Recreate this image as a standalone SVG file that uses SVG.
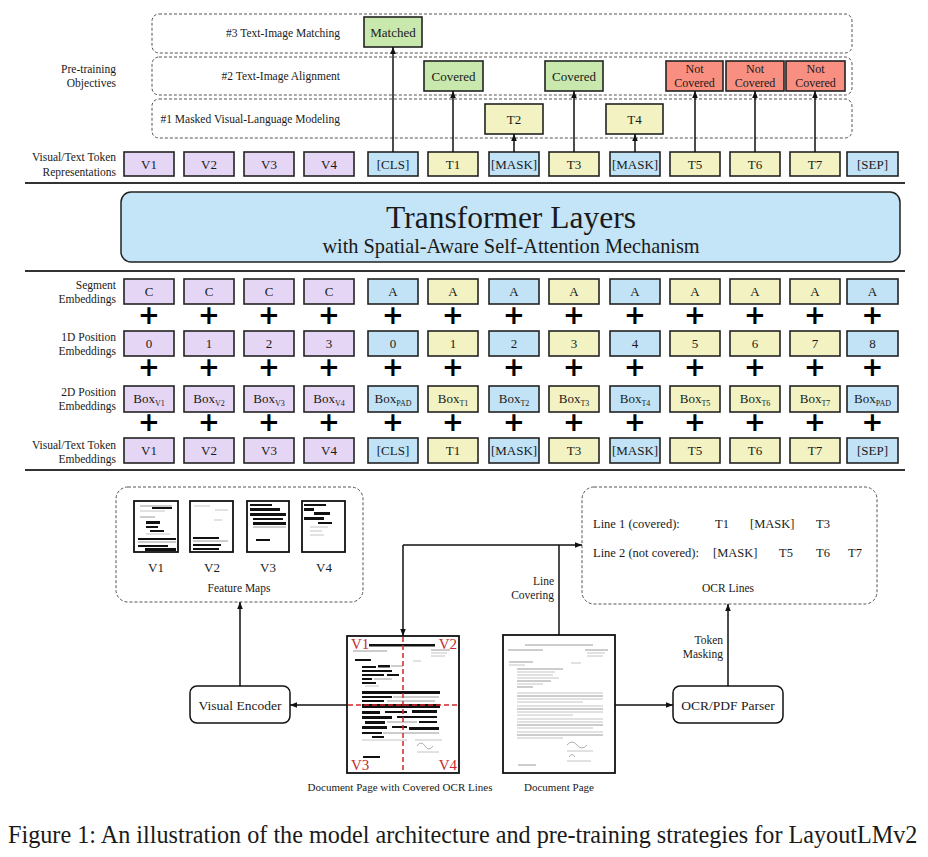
<svg xmlns="http://www.w3.org/2000/svg" width="928" height="857" viewBox="0 0 928 857">
<defs>
<marker id="ah" viewBox="0 0 10 10" refX="10" refY="5" markerWidth="7" markerHeight="7" markerUnits="userSpaceOnUse" orient="auto"><path d="M0,1 L10,5 L0,9 z" fill="#111"/></marker>
<style>
text{font-family:"Liberation Serif","Times New Roman",serif;fill:#1a1a1a}
.lbl{font-size:11.5px;text-anchor:end}
.obj{font-size:11.5px;text-anchor:end}
.tk{font-size:13px;text-anchor:middle}
.nc{font-size:12px;text-anchor:middle}
.sub{font-size:8px}
.plus{font-family:"DejaVu Sans",sans-serif;font-weight:bold;font-size:26px;text-anchor:middle;fill:#000}
.b{stroke:#222;stroke-width:1.6}
.pu{fill:#e6d6f6}
.bl{fill:#c2e3f6}
.ye{fill:#f2f2c2}
.gr{fill:#c8e8ae}
.rd{fill:#f98f80}
.dash{fill:none;stroke:#555;stroke-width:1;stroke-dasharray:3 2}
.sep{stroke:#333;stroke-width:1.8}
.con{stroke:#111;stroke-width:1.5;fill:none}
.rnode{fill:#fff;stroke:#111;stroke-width:1.5}
.doc{fill:#fff;stroke:#111;stroke-width:1.8}
.bar{fill:#111}
.gl{stroke:#9a9a9a;stroke-width:1}
.gl2{stroke:#b5b5b5;stroke-width:0.8}
.red{fill:#c8282d;font-size:15px}
.rdl{stroke:#d0282d;stroke-width:1.5;stroke-dasharray:5 3}
</style>
</defs>

<!-- separators -->
<g id="separators">
<line class="sep" x1="25" y1="183" x2="905" y2="183"/>
<line class="sep" x1="25" y1="271" x2="905" y2="271"/>
<line class="sep" x1="25" y1="470" x2="905" y2="470"/>
</g>

<!-- objective panels -->
<g id="objectives">
<rect class="dash" x="152" y="14" width="700" height="39" rx="7"/>
<rect class="dash" x="152" y="57" width="700" height="38" rx="7"/>
<rect class="dash" x="152" y="99" width="700" height="39" rx="7"/>
<text class="obj" x="340" y="37">#3 Text-Image Matching</text>
<text class="obj" x="340" y="80">#2 Text-Image Alignment</text>
<text class="obj" x="340" y="123">#1 Masked Visual-Language Modeling</text>
<text class="lbl" x="116" y="73">Pre-training</text>
<text class="lbl" x="116" y="87">Objectives</text>
</g>

<g id="n-matched"><rect class="b gr" x="364" y="17" width="58" height="30"/><text class="tk" x="393" y="37">Matched</text></g>
<g id="n-cov1"><rect class="b gr" x="424" y="61" width="59" height="30"/><text class="tk" x="453.5" y="81">Covered</text></g>
<g id="n-cov2"><rect class="b gr" x="545" y="61" width="58" height="30"/><text class="tk" x="574" y="81">Covered</text></g>
<g id="n-nc1"><rect class="b rd" x="666" y="61" width="57" height="30"/><text class="nc" x="694.5" y="73">Not</text><text class="nc" x="694.5" y="87">Covered</text></g>
<g id="n-nc2"><rect class="b rd" x="726" y="61" width="58" height="30"/><text class="nc" x="755" y="73">Not</text><text class="nc" x="755" y="87">Covered</text></g>
<g id="n-nc3"><rect class="b rd" x="786" y="61" width="59" height="30"/><text class="nc" x="815.5" y="73">Not</text><text class="nc" x="815.5" y="87">Covered</text></g>
<g id="n-t2p"><rect class="b ye" x="485" y="104" width="58" height="30"/><text class="tk" x="514" y="124">T2</text></g>
<g id="n-t4p"><rect class="b ye" x="606" y="104" width="57" height="30"/><text class="tk" x="634.5" y="124">T4</text></g>

<!-- output representations -->
<g id="rep-label"><text class="lbl" x="116" y="161">Visual/Text Token</text><text class="lbl" x="116" y="176">Representations</text></g>
<g id="rep-v1"><rect class="b pu" x="124" y="152" width="50" height="24"/><text class="tk" x="149" y="169">V1</text></g>
<g id="rep-v2"><rect class="b pu" x="184" y="152" width="50" height="24"/><text class="tk" x="209" y="169">V2</text></g>
<g id="rep-v3"><rect class="b pu" x="244" y="152" width="50" height="24"/><text class="tk" x="269" y="169">V3</text></g>
<g id="rep-v4"><rect class="b pu" x="304" y="152" width="50" height="24"/><text class="tk" x="329" y="169">V4</text></g>
<g id="rep-cls"><rect class="b bl" x="368" y="152" width="50" height="24"/><text class="tk" x="393" y="169">[CLS]</text></g>
<g id="rep-t1"><rect class="b ye" x="428" y="152" width="50" height="24"/><text class="tk" x="453" y="169">T1</text></g>
<g id="rep-m1"><rect class="b bl" x="489" y="152" width="50" height="24"/><text class="tk" x="514" y="169">[MASK]</text></g>
<g id="rep-t3"><rect class="b ye" x="549" y="152" width="50" height="24"/><text class="tk" x="574" y="169">T3</text></g>
<g id="rep-m2"><rect class="b bl" x="610" y="152" width="50" height="24"/><text class="tk" x="635" y="169">[MASK]</text></g>
<g id="rep-t5"><rect class="b ye" x="670" y="152" width="50" height="24"/><text class="tk" x="695" y="169">T5</text></g>
<g id="rep-t6"><rect class="b ye" x="730" y="152" width="50" height="24"/><text class="tk" x="755" y="169">T6</text></g>
<g id="rep-t7"><rect class="b ye" x="790" y="152" width="50" height="24"/><text class="tk" x="815" y="169">T7</text></g>
<g id="rep-sep"><rect class="b bl" x="847" y="152" width="51" height="24"/><text class="tk" x="872.5" y="169">[SEP]</text></g>

<!-- transformer -->
<g id="transformer">
<rect x="121" y="192" width="779" height="70" rx="10" fill="#c4e4f7" stroke="#222" stroke-width="1.5"/>
<text x="511" y="228" text-anchor="middle" font-size="31.5px">Transformer Layers</text>
<text x="511" y="253" text-anchor="middle" font-size="20.3px">with Spatial-Aware Self-Attention Mechanism</text>
</g>

<!-- embeddings row labels -->
<g id="emb-labels">
<text class="lbl" x="116" y="289">Segment</text><text class="lbl" x="116" y="303">Embeddings</text>
<text class="lbl" x="116" y="341">1D Position</text><text class="lbl" x="116" y="355">Embeddings</text>
<text class="lbl" x="116" y="396">2D Position</text><text class="lbl" x="116" y="410">Embeddings</text>
<text class="lbl" x="116" y="449">Visual/Text Token</text><text class="lbl" x="116" y="463">Embeddings</text>
</g>

<!-- segment row -->
<g id="seg">
<g id="seg-1"><rect class="b pu" x="124" y="279" width="50" height="25"/><text class="tk" x="149" y="296">C</text></g>
<g id="seg-2"><rect class="b pu" x="184" y="279" width="50" height="25"/><text class="tk" x="209" y="296">C</text></g>
<g id="seg-3"><rect class="b pu" x="244" y="279" width="50" height="25"/><text class="tk" x="269" y="296">C</text></g>
<g id="seg-4"><rect class="b pu" x="304" y="279" width="50" height="25"/><text class="tk" x="329" y="296">C</text></g>
<g id="seg-5"><rect class="b bl" x="368" y="279" width="50" height="25"/><text class="tk" x="393" y="296">A</text></g>
<g id="seg-6"><rect class="b ye" x="428" y="279" width="50" height="25"/><text class="tk" x="453" y="296">A</text></g>
<g id="seg-7"><rect class="b bl" x="489" y="279" width="50" height="25"/><text class="tk" x="514" y="296">A</text></g>
<g id="seg-8"><rect class="b ye" x="549" y="279" width="50" height="25"/><text class="tk" x="574" y="296">A</text></g>
<g id="seg-9"><rect class="b bl" x="610" y="279" width="50" height="25"/><text class="tk" x="635" y="296">A</text></g>
<g id="seg-10"><rect class="b ye" x="670" y="279" width="50" height="25"/><text class="tk" x="695" y="296">A</text></g>
<g id="seg-11"><rect class="b ye" x="730" y="279" width="50" height="25"/><text class="tk" x="755" y="296">A</text></g>
<g id="seg-12"><rect class="b ye" x="790" y="279" width="50" height="25"/><text class="tk" x="815" y="296">A</text></g>
<g id="seg-13"><rect class="b bl" x="847" y="279" width="51" height="25"/><text class="tk" x="872.5" y="296">A</text></g>
</g>

<!-- 1D position row -->
<g id="pos1d">
<g id="p1-1"><rect class="b pu" x="124" y="331" width="50" height="25"/><text class="tk" x="149" y="348">0</text></g>
<g id="p1-2"><rect class="b pu" x="184" y="331" width="50" height="25"/><text class="tk" x="209" y="348">1</text></g>
<g id="p1-3"><rect class="b pu" x="244" y="331" width="50" height="25"/><text class="tk" x="269" y="348">2</text></g>
<g id="p1-4"><rect class="b pu" x="304" y="331" width="50" height="25"/><text class="tk" x="329" y="348">3</text></g>
<g id="p1-5"><rect class="b bl" x="368" y="331" width="50" height="25"/><text class="tk" x="393" y="348">0</text></g>
<g id="p1-6"><rect class="b ye" x="428" y="331" width="50" height="25"/><text class="tk" x="453" y="348">1</text></g>
<g id="p1-7"><rect class="b bl" x="489" y="331" width="50" height="25"/><text class="tk" x="514" y="348">2</text></g>
<g id="p1-8"><rect class="b ye" x="549" y="331" width="50" height="25"/><text class="tk" x="574" y="348">3</text></g>
<g id="p1-9"><rect class="b bl" x="610" y="331" width="50" height="25"/><text class="tk" x="635" y="348">4</text></g>
<g id="p1-10"><rect class="b ye" x="670" y="331" width="50" height="25"/><text class="tk" x="695" y="348">5</text></g>
<g id="p1-11"><rect class="b ye" x="730" y="331" width="50" height="25"/><text class="tk" x="755" y="348">6</text></g>
<g id="p1-12"><rect class="b ye" x="790" y="331" width="50" height="25"/><text class="tk" x="815" y="348">7</text></g>
<g id="p1-13"><rect class="b bl" x="847" y="331" width="51" height="25"/><text class="tk" x="872.5" y="348">8</text></g>
</g>

<!-- 2D position row -->
<g id="pos2d">
<g id="p2-1"><rect class="b pu" x="124" y="386" width="50" height="26"/><text class="tk" x="149" y="403">Box<tspan class="sub" dy="3">V1</tspan></text></g>
<g id="p2-2"><rect class="b pu" x="184" y="386" width="50" height="26"/><text class="tk" x="209" y="403">Box<tspan class="sub" dy="3">V2</tspan></text></g>
<g id="p2-3"><rect class="b pu" x="244" y="386" width="50" height="26"/><text class="tk" x="269" y="403">Box<tspan class="sub" dy="3">V3</tspan></text></g>
<g id="p2-4"><rect class="b pu" x="304" y="386" width="50" height="26"/><text class="tk" x="329" y="403">Box<tspan class="sub" dy="3">V4</tspan></text></g>
<g id="p2-5"><rect class="b bl" x="368" y="386" width="50" height="26"/><text class="tk" x="393" y="403">Box<tspan class="sub" dy="3">PAD</tspan></text></g>
<g id="p2-6"><rect class="b ye" x="428" y="386" width="50" height="26"/><text class="tk" x="453" y="403">Box<tspan class="sub" dy="3">T1</tspan></text></g>
<g id="p2-7"><rect class="b bl" x="489" y="386" width="50" height="26"/><text class="tk" x="514" y="403">Box<tspan class="sub" dy="3">T2</tspan></text></g>
<g id="p2-8"><rect class="b ye" x="549" y="386" width="50" height="26"/><text class="tk" x="574" y="403">Box<tspan class="sub" dy="3">T3</tspan></text></g>
<g id="p2-9"><rect class="b bl" x="610" y="386" width="50" height="26"/><text class="tk" x="635" y="403">Box<tspan class="sub" dy="3">T4</tspan></text></g>
<g id="p2-10"><rect class="b ye" x="670" y="386" width="50" height="26"/><text class="tk" x="695" y="403">Box<tspan class="sub" dy="3">T5</tspan></text></g>
<g id="p2-11"><rect class="b ye" x="730" y="386" width="50" height="26"/><text class="tk" x="755" y="403">Box<tspan class="sub" dy="3">T6</tspan></text></g>
<g id="p2-12"><rect class="b ye" x="790" y="386" width="50" height="26"/><text class="tk" x="815" y="403">Box<tspan class="sub" dy="3">T7</tspan></text></g>
<g id="p2-13"><rect class="b bl" x="847" y="386" width="51" height="26"/><text class="tk" x="872.5" y="403">Box<tspan class="sub" dy="3">PAD</tspan></text></g>
</g>

<!-- token embedding row -->
<g id="tokemb">
<g id="te-1"><rect class="b pu" x="124" y="438" width="50" height="25"/><text class="tk" x="149" y="455">V1</text></g>
<g id="te-2"><rect class="b pu" x="184" y="438" width="50" height="25"/><text class="tk" x="209" y="455">V2</text></g>
<g id="te-3"><rect class="b pu" x="244" y="438" width="50" height="25"/><text class="tk" x="269" y="455">V3</text></g>
<g id="te-4"><rect class="b pu" x="304" y="438" width="50" height="25"/><text class="tk" x="329" y="455">V4</text></g>
<g id="te-5"><rect class="b bl" x="368" y="438" width="50" height="25"/><text class="tk" x="393" y="455">[CLS]</text></g>
<g id="te-6"><rect class="b ye" x="428" y="438" width="50" height="25"/><text class="tk" x="453" y="455">T1</text></g>
<g id="te-7"><rect class="b bl" x="489" y="438" width="50" height="25"/><text class="tk" x="514" y="455">[MASK]</text></g>
<g id="te-8"><rect class="b ye" x="549" y="438" width="50" height="25"/><text class="tk" x="574" y="455">T3</text></g>
<g id="te-9"><rect class="b bl" x="610" y="438" width="50" height="25"/><text class="tk" x="635" y="455">[MASK]</text></g>
<g id="te-10"><rect class="b ye" x="670" y="438" width="50" height="25"/><text class="tk" x="695" y="455">T5</text></g>
<g id="te-11"><rect class="b ye" x="730" y="438" width="50" height="25"/><text class="tk" x="755" y="455">T6</text></g>
<g id="te-12"><rect class="b ye" x="790" y="438" width="50" height="25"/><text class="tk" x="815" y="455">T7</text></g>
<g id="te-13"><rect class="b bl" x="847" y="438" width="51" height="25"/><text class="tk" x="872.5" y="455">[SEP]</text></g>
</g>

<!-- plus signs -->
<g id="plus">
<text class="plus" x="149" y="324">+</text><text class="plus" x="209" y="324">+</text><text class="plus" x="269" y="324">+</text><text class="plus" x="329" y="324">+</text><text class="plus" x="393" y="324">+</text><text class="plus" x="453" y="324">+</text><text class="plus" x="514" y="324">+</text><text class="plus" x="574" y="324">+</text><text class="plus" x="635" y="324">+</text><text class="plus" x="695" y="324">+</text><text class="plus" x="755" y="324">+</text><text class="plus" x="815" y="324">+</text><text class="plus" x="872.5" y="324">+</text>
<text class="plus" x="149" y="376">+</text><text class="plus" x="209" y="376">+</text><text class="plus" x="269" y="376">+</text><text class="plus" x="329" y="376">+</text><text class="plus" x="393" y="376">+</text><text class="plus" x="453" y="376">+</text><text class="plus" x="514" y="376">+</text><text class="plus" x="574" y="376">+</text><text class="plus" x="635" y="376">+</text><text class="plus" x="695" y="376">+</text><text class="plus" x="755" y="376">+</text><text class="plus" x="815" y="376">+</text><text class="plus" x="872.5" y="376">+</text>
<text class="plus" x="149" y="431">+</text><text class="plus" x="209" y="431">+</text><text class="plus" x="269" y="431">+</text><text class="plus" x="329" y="431">+</text><text class="plus" x="393" y="431">+</text><text class="plus" x="453" y="431">+</text><text class="plus" x="514" y="431">+</text><text class="plus" x="574" y="431">+</text><text class="plus" x="635" y="431">+</text><text class="plus" x="695" y="431">+</text><text class="plus" x="755" y="431">+</text><text class="plus" x="815" y="431">+</text><text class="plus" x="872.5" y="431">+</text>
</g>

<!-- feature maps -->
<g id="feature-maps">
<rect class="dash" x="116" y="487" width="247" height="115" rx="12"/>
<g id="fm-v1">
<rect class="doc" x="134" y="501" width="44" height="51"/>
<line class="gl" x1="140" y1="506" x2="172" y2="506"/><rect class="bar" x="152" y="507" width="20" height="2"/>
<line class="gl2" x1="140" y1="511" x2="165" y2="511"/><line class="gl" x1="140" y1="517" x2="155" y2="517"/>
<rect class="bar" x="146" y="521" width="14" height="3"/><rect class="bar" x="146" y="526" width="12" height="2"/><rect class="bar" x="150" y="530" width="14" height="2"/>
<line class="gl2" x1="146" y1="534" x2="170" y2="534"/>
<rect class="bar" x="138" y="538" width="38" height="2"/><line class="gl" x1="138" y1="542" x2="176" y2="542"/><rect class="bar" x="138" y="545" width="30" height="2"/>
<rect class="bar" x="145" y="548" width="31" height="3"/>
</g>
<g id="fm-v2">
<rect class="doc" x="190" y="501" width="43" height="51"/>
<line class="gl2" x1="194" y1="506" x2="210" y2="506"/><line class="gl2" x1="215" y1="510" x2="228" y2="510"/><line class="gl2" x1="214" y1="520" x2="222" y2="520"/>
<rect class="bar" x="193" y="537" width="26" height="2"/><line class="gl" x1="193" y1="541" x2="228" y2="541"/><rect class="bar" x="193" y="544" width="28" height="2"/><rect class="bar" x="193" y="548" width="26" height="2"/>
</g>
<g id="fm-v3">
<rect class="doc" x="247" y="501" width="42" height="51"/>
<rect class="bar" x="250" y="504" width="22" height="2"/><rect class="bar" x="250" y="508" width="30" height="3"/><rect class="bar" x="250" y="513" width="36" height="3"/><rect class="bar" x="253" y="518" width="30" height="2"/><rect class="bar" x="253" y="522" width="33" height="3"/><line class="gl" x1="253" y1="527" x2="286" y2="527"/>
<rect class="bar" x="256" y="539" width="14" height="2"/>
</g>
<g id="fm-v4">
<rect class="doc" x="302" y="501" width="43" height="51"/>
<rect class="bar" x="304" y="504" width="22" height="2"/><rect class="bar" x="304" y="508" width="10" height="3"/><rect class="bar" x="314" y="512" width="16" height="3"/><rect class="bar" x="304" y="517" width="20" height="3"/><rect class="bar" x="318" y="522" width="14" height="2"/>
<line class="gl2" x1="310" y1="527" x2="328" y2="527"/><line class="gl2" x1="310" y1="531" x2="322" y2="531"/><line class="gl2" x1="310" y1="535" x2="324" y2="535"/>
</g>
<text class="tk" x="156" y="572" font-size="12.5px">V1</text>
<text class="tk" x="212" y="572" font-size="12.5px">V2</text>
<text class="tk" x="268" y="572" font-size="12.5px">V3</text>
<text class="tk" x="324" y="572" font-size="12.5px">V4</text>
<text x="239" y="592" text-anchor="middle" font-size="11.5px">Feature Maps</text>
</g>

<!-- OCR lines -->
<g id="ocr-lines">
<rect class="dash" x="582" y="487" width="295" height="117" rx="12"/>
<text x="593" y="528" font-size="12.5px">Line 1 (covered):</text>
<text x="715" y="528" font-size="12.5px">T1</text>
<text x="750" y="528" font-size="12.5px">[MASK]</text>
<text x="816" y="528" font-size="12.5px">T3</text>
<text x="593" y="557" font-size="12.5px">Line 2 (not covered):</text>
<text x="713" y="557" font-size="12.5px">[MASK]</text>
<text x="779" y="557" font-size="12.5px">T5</text>
<text x="816" y="557" font-size="12.5px">T6</text>
<text x="848" y="557" font-size="12.5px">T7</text>
<text x="728" y="592" text-anchor="middle" font-size="11.5px">OCR Lines</text>
</g>

<!-- visual encoder -->
<g id="visual-encoder"><rect class="rnode" x="190" y="686" width="100" height="37" rx="7"/><text x="240" y="710" text-anchor="middle" font-size="13.5px">Visual Encoder</text></g>

<!-- parser -->
<g id="ocr-parser"><rect class="rnode" x="673" y="686" width="110" height="37" rx="7"/><text x="728" y="710" text-anchor="middle" font-size="13.5px">OCR/PDF Parser</text></g>

<!-- covered document -->
<g id="covered-doc">
<rect class="doc" x="347" y="636" width="112" height="137"/>
<g transform="translate(347,636)">
<rect class="bar" x="22" y="8" width="66" height="2.5"/>
<line class="gl" x1="6" y1="15" x2="40" y2="15"/><line class="gl" x1="84" y1="14" x2="103" y2="14"/><line class="gl2" x1="84" y1="17" x2="100" y2="17"/><line class="gl2" x1="84" y1="20" x2="98" y2="20"/>
<rect class="bar" x="8" y="23" width="16" height="2"/><line class="gl2" x1="66" y1="25" x2="74" y2="25"/>
<rect class="bar" x="15" y="30" width="14" height="2"/><rect class="bar" x="31" y="29" width="12" height="2.5"/><line class="gl" x1="44" y1="30" x2="56" y2="30"/>
<rect class="bar" x="15" y="34" width="30" height="2"/><rect class="bar" x="15" y="38" width="22" height="2"/><rect class="bar" x="40" y="38" width="12" height="2"/>
<rect class="bar" x="15" y="42" width="10" height="2"/><line class="gl" x1="27" y1="43" x2="45" y2="43"/><rect class="bar" x="15" y="46" width="14" height="2"/><line class="gl2" x1="18" y1="50" x2="32" y2="50"/>
<rect class="bar" x="15" y="55" width="78" height="3"/>
<rect class="bar" x="15" y="60" width="30" height="2"/><line class="gl" x1="46" y1="61" x2="92" y2="61"/><rect class="bar" x="15" y="64" width="22" height="2"/><line class="gl" x1="40" y1="65" x2="88" y2="65"/>
<rect class="bar" x="15" y="68" width="78" height="4"/>
<rect class="bar" x="15" y="75" width="18" height="3"/><rect class="bar" x="38" y="75" width="22" height="2"/><rect class="bar" x="65" y="74" width="25" height="3"/>
<rect class="bar" x="15" y="80" width="30" height="3"/><rect class="bar" x="50" y="80" width="40" height="2"/>
<rect class="bar" x="18" y="85" width="20" height="3"/><line class="gl" x1="40" y1="86" x2="70" y2="86"/><rect class="bar" x="72" y="85" width="18" height="2"/>
<rect class="bar" x="15" y="90" width="25" height="3"/><rect class="bar" x="45" y="90" width="15" height="2"/><rect class="bar" x="62" y="91" width="30" height="3"/>
<rect class="bar" x="15" y="96" width="20" height="2"/><line class="gl" x1="36" y1="97" x2="92" y2="97"/><rect class="bar" x="25" y="100" width="12" height="2"/>
<line class="gl2" x1="15" y1="104" x2="60" y2="104"/><line class="gl2" x1="68" y1="104" x2="95" y2="104"/>
<path d="M70,110 q4,-6 8,0 t8,0" fill="none" stroke="#999" stroke-width="0.8"/><line class="gl2" x1="70" y1="116" x2="92" y2="116"/>
<rect class="bar" x="16" y="120" width="17" height="2"/>
</g>
<line class="rdl" x1="403" y1="637" x2="403" y2="772"/>
<line class="rdl" x1="348" y1="705" x2="458" y2="705"/>
<text class="red" x="351" y="649">V1</text>
<text class="red" x="457" y="649" text-anchor="end">V2</text>
<text class="red" x="351" y="770">V3</text>
<text class="red" x="457" y="770" text-anchor="end">V4</text>
<text x="400" y="791" text-anchor="middle" font-size="11px">Document Page with Covered OCR Lines</text>
</g>

<!-- document page -->
<g id="document-page">
<rect class="doc" x="503" y="635" width="112" height="138"/>
<g transform="translate(503,635)">
<line class="gl" x1="22" y1="10" x2="90" y2="10"/>
<line class="gl" x1="5" y1="15" x2="40" y2="15"/><line class="gl" x1="82" y1="15" x2="105" y2="15"/><line class="gl2" x1="84" y1="18" x2="102" y2="18"/><line class="gl2" x1="84" y1="21" x2="100" y2="21"/>
<line class="gl" x1="6" y1="27" x2="30" y2="27"/><line class="gl2" x1="6" y1="30" x2="22" y2="30"/><line class="gl2" x1="68" y1="28" x2="78" y2="28"/>
<line class="gl" x1="14" y1="34" x2="60" y2="34"/><line class="gl2" x1="14" y1="37" x2="52" y2="37"/><line class="gl2" x1="14" y1="40" x2="50" y2="40"/><line class="gl2" x1="14" y1="43" x2="56" y2="43"/><line class="gl" x1="14" y1="46" x2="48" y2="46"/><line class="gl2" x1="14" y1="49" x2="40" y2="49"/><line class="gl" x1="14" y1="52" x2="30" y2="52"/>
<line class="gl2" x1="14" y1="58" x2="100" y2="58"/><line class="gl" x1="14" y1="61" x2="100" y2="61"/><line class="gl2" x1="14" y1="64" x2="100" y2="64"/><line class="gl2" x1="14" y1="67" x2="80" y2="67"/>
<line class="gl2" x1="14" y1="71" x2="100" y2="71"/><line class="gl" x1="14" y1="74" x2="100" y2="74"/><line class="gl2" x1="14" y1="77" x2="100" y2="77"/><line class="gl2" x1="14" y1="80" x2="70" y2="80"/>
<line class="gl2" x1="14" y1="84" x2="100" y2="84"/><line class="gl2" x1="14" y1="87" x2="100" y2="87"/><line class="gl" x1="14" y1="90" x2="100" y2="90"/><line class="gl2" x1="14" y1="93" x2="90" y2="93"/>
<line class="gl2" x1="14" y1="97" x2="100" y2="97"/><line class="gl" x1="14" y1="100" x2="100" y2="100"/><line class="gl2" x1="14" y1="103" x2="60" y2="103"/>
<path d="M64,110 q5,-6 10,0 t10,0" fill="none" stroke="#999" stroke-width="0.8"/><line class="gl2" x1="64" y1="116" x2="90" y2="116"/><path d="M66,122 q3,-5 6,0" fill="none" stroke="#999" stroke-width="0.8"/><line class="gl2" x1="64" y1="126" x2="88" y2="126"/>
<line class="gl" x1="15" y1="130" x2="33" y2="130"/>
</g>
<text x="559" y="791" text-anchor="middle" font-size="11px">Document Page</text>
</g>

<!-- connectors -->
<g id="connectors">
<line class="con" x1="393" y1="152" x2="393" y2="47" marker-end="url(#ah)"/>
<line class="con" x1="453" y1="152" x2="453" y2="91" marker-end="url(#ah)"/>
<line class="con" x1="514" y1="152" x2="514" y2="134" marker-end="url(#ah)"/>
<line class="con" x1="574" y1="152" x2="574" y2="91" marker-end="url(#ah)"/>
<line class="con" x1="635" y1="152" x2="635" y2="134" marker-end="url(#ah)"/>
<line class="con" x1="695" y1="152" x2="695" y2="91" marker-end="url(#ah)"/>
<line class="con" x1="755" y1="152" x2="755" y2="91" marker-end="url(#ah)"/>
<line class="con" x1="815" y1="152" x2="815" y2="91" marker-end="url(#ah)"/>
<line class="con" x1="240" y1="686" x2="240" y2="602" marker-end="url(#ah)"/>
<line class="con" x1="347" y1="705" x2="290" y2="705" marker-end="url(#ah)"/>
<line class="con" x1="559" y1="635" x2="559" y2="545"/>
<line class="con" x1="403" y1="545" x2="582" y2="545" marker-end="url(#ah)"/>
<line class="con" x1="403" y1="545" x2="403" y2="636" marker-end="url(#ah)"/>
<line class="con" x1="615" y1="705" x2="673" y2="705" marker-end="url(#ah)"/>
<line class="con" x1="728" y1="686" x2="728" y2="604" marker-end="url(#ah)"/>
<text x="554" y="585" text-anchor="end" font-size="11.5px">Line</text>
<text x="554" y="599" text-anchor="end" font-size="11.5px">Covering</text>
<text x="723" y="644" text-anchor="end" font-size="11.5px">Token</text>
<text x="723" y="658" text-anchor="end" font-size="11.5px">Masking</text>
</g>

<!-- caption -->
<text id="caption" x="8" y="843" font-size="24.2px">Figure 1: An illustration of the model architecture and pre-training strategies for LayoutLMv2</text>
</svg>
